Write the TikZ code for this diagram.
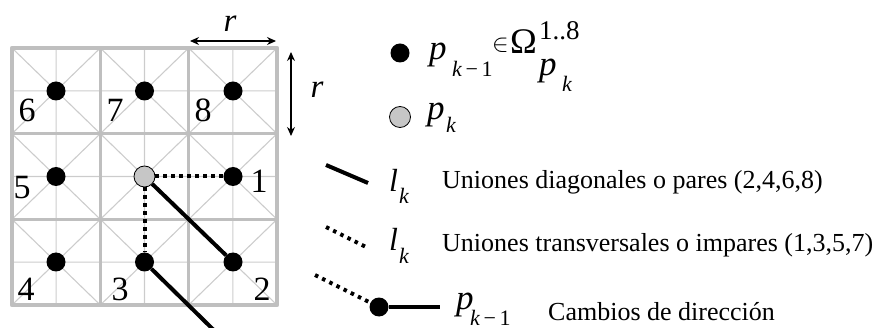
\documentclass[tikz,border=0pt]{standalone}
\usepackage{fontspec}
\setmainfont{Liberation Serif}
\newfontfamily\itf{Liberation Serif Italic}
\usetikzlibrary{arrows.meta}
\begin{document}
\begin{tikzpicture}[x=1pt,y=-1pt,
 thingrid/.style={draw=gray!40, line width=1.1pt},
 cellgrid/.style={draw=gray!50, line width=3.5pt},
 outerbox/.style={draw=gray!50, line width=4.5pt, line join=round},
 bdot/.style={circle, fill=black, minimum size=19pt, inner sep=0pt},
 gdot/.style={circle, fill=gray!45, draw=black, line width=0.8pt, minimum size=21pt, inner sep=0pt},
 solidlink/.style={line width=4pt},
 dotlink/.style={line width=4pt, dash pattern=on 3.5pt off 4.5pt},
 num/.style={font=\fontsize{34}{36}\selectfont, inner sep=0pt, anchor=base},
 txt/.style={font=\fontsize{26}{30}\selectfont, inner sep=0pt, anchor=base west},
 mbig/.style={font=\fontsize{35}{37}\selectfont\itf, inner sep=0pt, anchor=base west},
 mell/.style={font=\fontsize{32}{34}\selectfont\itf, inner sep=0pt, anchor=base west},
 msub/.style={font=\fontsize{22}{24}\selectfont\itf, inner sep=0pt, anchor=base west},
 mup/.style={font=\fontsize{36}{38}\selectfont, inner sep=0pt, anchor=base west},
 rlab/.style={font=\fontsize{33}{35}\selectfont\itf, inner sep=0pt, anchor=base},
 dimarrow/.style={line width=1.2pt, {Stealth[length=9pt,width=8pt]}-{Stealth[length=9pt,width=8pt]}},
]
\useasboundingbox (0,0) rectangle (877,328);
\clip (0,0) rectangle (877,328);
% grid
\foreach \i in {0,1,2}{\foreach \j in {0,1,2}{
 \begin{scope}[shift={({12+88.33*\i},{48+85.67*\j})}]
  \draw[thingrid] (0,0) -- (88.33,85.67) (88.33,0) -- (0,85.67)
        (44.17,0) -- (44.17,85.67) (0,42.83) -- (88.33,42.83);
 \end{scope}}}
\draw[cellgrid] (100.33,48) -- (100.33,305) (188.67,48) -- (188.67,305)
      (12,133.67) -- (277,133.67) (12,219.33) -- (277,219.33);
\draw[outerbox] (12,48) rectangle (277,305);
% dots
\node[bdot] (d6) at (56,91) {};
\node[bdot] (d7) at (144.5,91) {};
\node[bdot] (d8) at (233,91) {};
\node[bdot] (d5) at (56,176.5) {};
\node[gdot] (c)  at (144.5,176.5) {};
\node[bdot] (d1) at (233,176.5) {};
\node[bdot] (d4) at (56,262) {};
\node[bdot] (d3) at (144.5,262) {};
\node[bdot] (d2) at (233,262) {};
% numbers
\node[num] (n6) at (27,122) {6};
\node[num] (n7) at (115,122) {7};
\node[num] (n8) at (203,122) {8};
\node[num] (n5) at (22,199) {5};
\node[num] (n1) at (259,193) {1};
\node[num] (n4) at (26,301) {4};
\node[num] (n3) at (120,301) {3};
\node[num] (n2) at (262,301) {2};
% connectors
\draw[dotlink] (c) -- (d1);
\draw[dotlink] (c) -- (d3);
\draw[solidlink] (c) -- (d2);
\coordinate (e) at (232,348);
\draw[solidlink] (d3) -- (e);
% dimension arrows
\coordinate (ha) at (190,41);
\coordinate (hb) at (276,41);
\draw[dimarrow] (ha) -- (hb);
\node[rlab] (rh) at (230,32) {r};
\coordinate (va) at (291,52);
\coordinate (vb) at (291,136);
\draw[dimarrow] (va) -- (vb);
\node[rlab] (rv) at (317,98) {r};
% legend 1
\node[bdot] (lb) at (400,53) {};
\node[mbig] (p1) at (429,60) {p};
\node[msub] (s1) at (452,77) {k\,{\normalfont −\,1}};
\node[inner sep=0pt, anchor=base west, font=\fontsize{28}{30}\selectfont] (in1) at (492,52) {$\in$};
\node[mup] (om) at (510,54) {Ω};
\node[inner sep=0pt, anchor=base west, font=\fontsize{27}{28}\selectfont] (sup1) at (539,40) {1..8};
\node[mbig] (p2) at (539,76) {p};
\node[msub] (s2) at (562,92) {k};
% legend 2
\node[gdot] (lg) at (400,117) {};
\node[mbig] (p3) at (427,120) {p};
\node[msub] (s3) at (446,133) {k};
% legend 3
\coordinate (a1) at (326,165);
\coordinate (a2) at (368,183);
\draw[solidlink] (a1) -- (a2);
\node[mell] (l1) at (389,192) {l};
\node[msub] (k1) at (399,204) {k};
\node[txt] (t1) at (442,189) {Uniones diagonales o pares (2,4,6,8)};
% legend 4
\coordinate (b1) at (326,227);
\coordinate (b2) at (368,248);
\draw[dotlink] (b1) -- (b2);
\node[mell] (l2) at (389,251) {l};
\node[msub] (k2) at (399,264) {k};
\node[txt] (t2) at (442,252) {Uniones transversales o impares (1,3,5,7)};
% legend 5
\node[bdot] (lc) at (379,307) {};
\coordinate (c1) at (315,275);
\coordinate (c2) at (440,307);
\draw[dotlink] (c1) -- (lc);
\draw[solidlink] (lc) -- (c2);
\node[mbig] (p4) at (456,309) {p};
\node[msub] (s4) at (470,325) {k\,{\normalfont −\,1}};
\node[txt] (t3) at (548,320) {Cambios de dirección};
\end{tikzpicture}
\end{document}
